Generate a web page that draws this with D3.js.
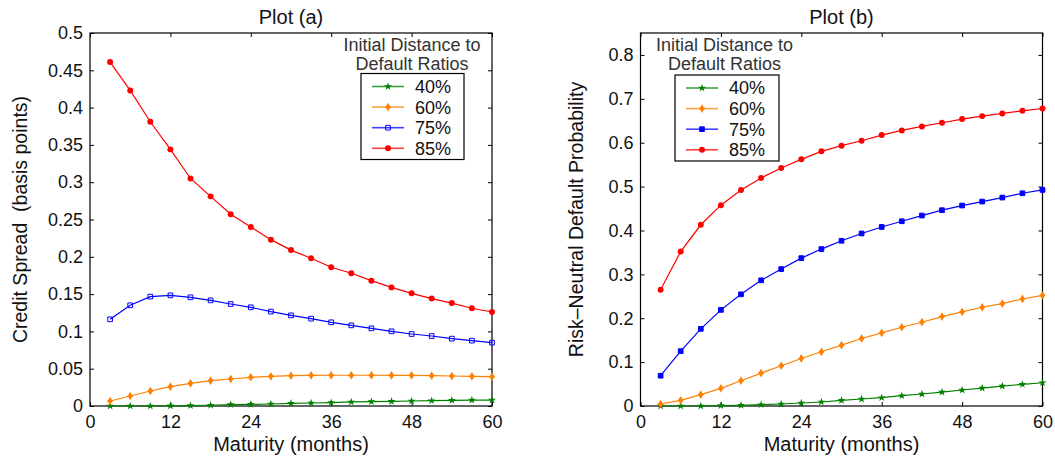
<!DOCTYPE html>
<html><head><meta charset="utf-8">
<script src="https://cdn.jsdelivr.net/npm/d3@7"></script>
<style>
body{margin:0;background:#fff;}
svg text{font-family:"Liberation Sans",Arial,Helvetica,sans-serif;}
</style></head><body>
<svg id="chart" width="1055" height="457"></svg>
<script>
// ---- data ----
const maturities = [3,6,9,12,15,18,21,24,27,30,33,36,39,42,45,48,51,54,57,60];
const seriesLabels = ["40%","60%","75%","85%"];
const legendTitle = ["Initial Distance to","Default Ratios"];

// Plot (a): credit spread
const spreadA40 = [0,0,0,0.0003,0.0005,0.001,0.0018,0.0022,0.0027,0.0036,0.004,0.0045,0.0054,0.0058,0.0063,0.0067,0.0071,0.0076,0.008,0.008];
const spreadA60 = [0.0067,0.0134,0.0201,0.0259,0.0304,0.034,0.0362,0.0384,0.0398,0.0407,0.0411,0.0412,0.0412,0.0412,0.0411,0.0411,0.0407,0.0402,0.0398,0.0393];
const spreadA75 = [0.1162,0.135,0.1466,0.1483,0.1457,0.1416,0.1367,0.1323,0.1265,0.1215,0.1171,0.1122,0.1081,0.1041,0.1001,0.0965,0.0938,0.0903,0.0876,0.0849];
const spreadA85 = [0.461,0.423,0.381,0.344,0.305,0.281,0.257,0.240,0.223,0.209,0.198,0.186,0.178,0.168,0.159,0.151,0.144,0.138,0.131,0.126];

// Plot (b): risk-neutral default probability
const probB40 = [0,0,0,0.0008,0.0015,0.003,0.0045,0.0068,0.0091,0.0129,0.0159,0.0189,0.0235,0.0273,0.0318,0.0364,0.0409,0.0455,0.0492,0.053];
const probB60 = [0.0045,0.0129,0.0258,0.0402,0.0576,0.075,0.0917,0.1083,0.1235,0.1386,0.1538,0.1667,0.1795,0.1909,0.2038,0.2144,0.225,0.2333,0.2439,0.2523];
const probB75 = [0.069,0.125,0.1758,0.219,0.2545,0.2864,0.312,0.337,0.3576,0.3765,0.3932,0.408,0.421,0.434,0.4462,0.4568,0.4659,0.475,0.4848,0.4924];
const probB85 = [0.265,0.352,0.413,0.4576,0.4924,0.5197,0.5424,0.5621,0.5803,0.5932,0.6045,0.6174,0.628,0.6371,0.6455,0.6538,0.6606,0.6667,0.6727,0.678];

const xTicks = [0,12,24,36,48,60];
const yTicksA = [0,0.05,0.1,0.15,0.2,0.25,0.3,0.35,0.4,0.45,0.5];
const yTicksB = [0,0.1,0.2,0.3,0.4,0.5,0.6,0.7,0.8];

// ---- styles ----
const colors = ["#008000","#ff8000","#0000ff","#ff0000"];

const svg = d3.select("#chart");
svg.append("rect").attr("width",1055).attr("height",457).attr("fill","#fff");

function fmt(d){ return String(+d.toFixed(2)); }

function drawPanel(cfg){
  const x = d3.scaleLinear().domain([0,60]).range([cfg.left,cfg.right]);
  const y = d3.scaleLinear().domain(cfg.yDomain).range([cfg.bottom,cfg.top]);
  const g = svg.append("g");
  const tl = 4;

  // axes with inward ticks
  const axB = g.append("g").attr("transform",`translate(0,${cfg.bottom})`)
    .call(d3.axisBottom(x).tickValues(xTicks).tickSizeInner(-tl).tickSizeOuter(0).tickPadding(9));
  const axT = g.append("g").attr("transform",`translate(0,${cfg.top})`)
    .call(d3.axisTop(x).tickValues(xTicks).tickSizeInner(-tl).tickSizeOuter(0).tickFormat(""));
  const axL = g.append("g").attr("transform",`translate(${cfg.left},0)`)
    .call(d3.axisLeft(y).tickValues(cfg.yTicks).tickFormat(fmt).tickSizeInner(-tl).tickSizeOuter(0).tickPadding(7));
  const axR = g.append("g").attr("transform",`translate(${cfg.right},0)`)
    .call(d3.axisRight(y).tickValues(cfg.yTicks).tickSizeInner(-tl).tickSizeOuter(0).tickFormat(""));
  [axB,axT,axL,axR].forEach(a=>{
    a.select(".domain").remove();
    a.selectAll(".tick line").attr("stroke","#000").attr("stroke-width",1);
    a.selectAll(".tick text").attr("fill","#111").style("font-size","18px");
  });
  g.append("rect").attr("x",cfg.left).attr("y",cfg.top)
    .attr("width",cfg.right-cfg.left).attr("height",cfg.bottom-cfg.top)
    .attr("fill","none").attr("stroke","#000").attr("stroke-width",1.2);

  // title & labels
  g.append("text").attr("x",(cfg.left+cfg.right)/2).attr("y",24)
    .attr("text-anchor","middle").style("font-size","20px").attr("fill","#111").text(cfg.title);
  g.append("text").attr("x",(cfg.left+cfg.right)/2).attr("y",451)
    .attr("text-anchor","middle").style("font-size","20px").attr("fill","#111").text("Maturity (months)");
  g.append("text").attr("transform",`translate(${cfg.ylx},${(cfg.top+cfg.bottom)/2}) rotate(-90)`)
    .attr("text-anchor","middle").style("font-size","19.5px").attr("fill","#111").style("white-space","pre").text(cfg.ylabel);

  const line = d3.line().x((d,i)=>x(maturities[i])).y(d=>y(d));
  const markers = [
    {type:d3.symbolStar,size:20,fill:colors[0],stroke:"none"},
    {type:d3.symbolDiamond,size:22,fill:colors[1],stroke:"none"},
    {type:d3.symbolSquare,size:22,fill:cfg.squareFill,stroke:colors[2]},
    {type:d3.symbolCircle,size:28,fill:colors[3],stroke:"none"}
  ];
  cfg.series.forEach((s,k)=>{
    g.append("path").datum(s).attr("d",line).attr("fill","none")
      .attr("stroke",colors[k]).attr("stroke-width",1.2);
    const m = markers[k];
    g.selectAll(null).data(s).enter().append("path")
      .attr("transform",(d,i)=>`translate(${x(maturities[i])},${y(d)})`)
      .attr("d",d3.symbol().type(m.type).size(m.size))
      .attr("fill",m.fill).attr("stroke",m.stroke).attr("stroke-width",1);
    if(k===1){
      g.selectAll(null).data(s).enter().append("path")
        .attr("transform",(d,i)=>`translate(${x(maturities[i])},${y(d)})`)
        .attr("d",d3.symbol().type(d3.symbolCross).size(16)).attr("fill",colors[1]);
    }
  });

  // legend
  const L = cfg.legend;
  legendTitle.forEach((t,i)=>{
    g.append("text").attr("x",L.titleX).attr("y",50.5+i*19)
      .attr("text-anchor","middle").style("font-size","18px").attr("fill","#333").text(t);
  });
  g.append("rect").attr("x",L.x).attr("y",L.y).attr("width",L.w).attr("height",L.h)
    .attr("fill","#fff").attr("stroke","#000").attr("stroke-width",1.2);
  seriesLabels.forEach((lab,k)=>{
    const yy = L.y + 13 + k*20.6;
    g.append("line").attr("x1",L.x+11).attr("x2",L.x+43).attr("y1",yy).attr("y2",yy)
      .attr("stroke",colors[k]).attr("stroke-width",1.6).attr("stroke-opacity",0.75);
    const m = markers[k];
    g.append("path").attr("transform",`translate(${L.x+27},${yy})`)
      .attr("d",d3.symbol().type(m.type).size(m.size)).attr("fill",m.fill).attr("stroke",m.stroke);
    if(k===1) g.append("path").attr("transform",`translate(${L.x+27},${yy})`)
      .attr("d",d3.symbol().type(d3.symbolCross).size(16)).attr("fill",colors[1]);
    g.append("text").attr("x",L.x+54).attr("y",yy).attr("dy","0.36em")
      .style("font-size","18px").attr("fill","#111").text(lab);
  });
}

drawPanel({
  left:90,right:492,top:33,bottom:406,yDomain:[0,0.5],yTicks:yTicksA,
  title:"Plot (a)",ylabel:"Credit Spread  (basis points)",ylx:27,squareFill:"none",
  series:[spreadA40,spreadA60,spreadA75,spreadA85],
  legend:{titleX:412,x:361,y:73.5,w:103,h:86}
});
drawPanel({
  left:640.5,right:1042.5,top:33,bottom:406,yDomain:[0,0.85],yTicks:yTicksB,
  title:"Plot (b)",ylabel:"Risk\u2013Neutral Default Probability",ylx:583,squareFill:colors[2],
  series:[probB40,probB60,probB75,probB85],
  legend:{titleX:724.5,x:675,y:75,w:104,h:86}
});
</script>
</body></html>
